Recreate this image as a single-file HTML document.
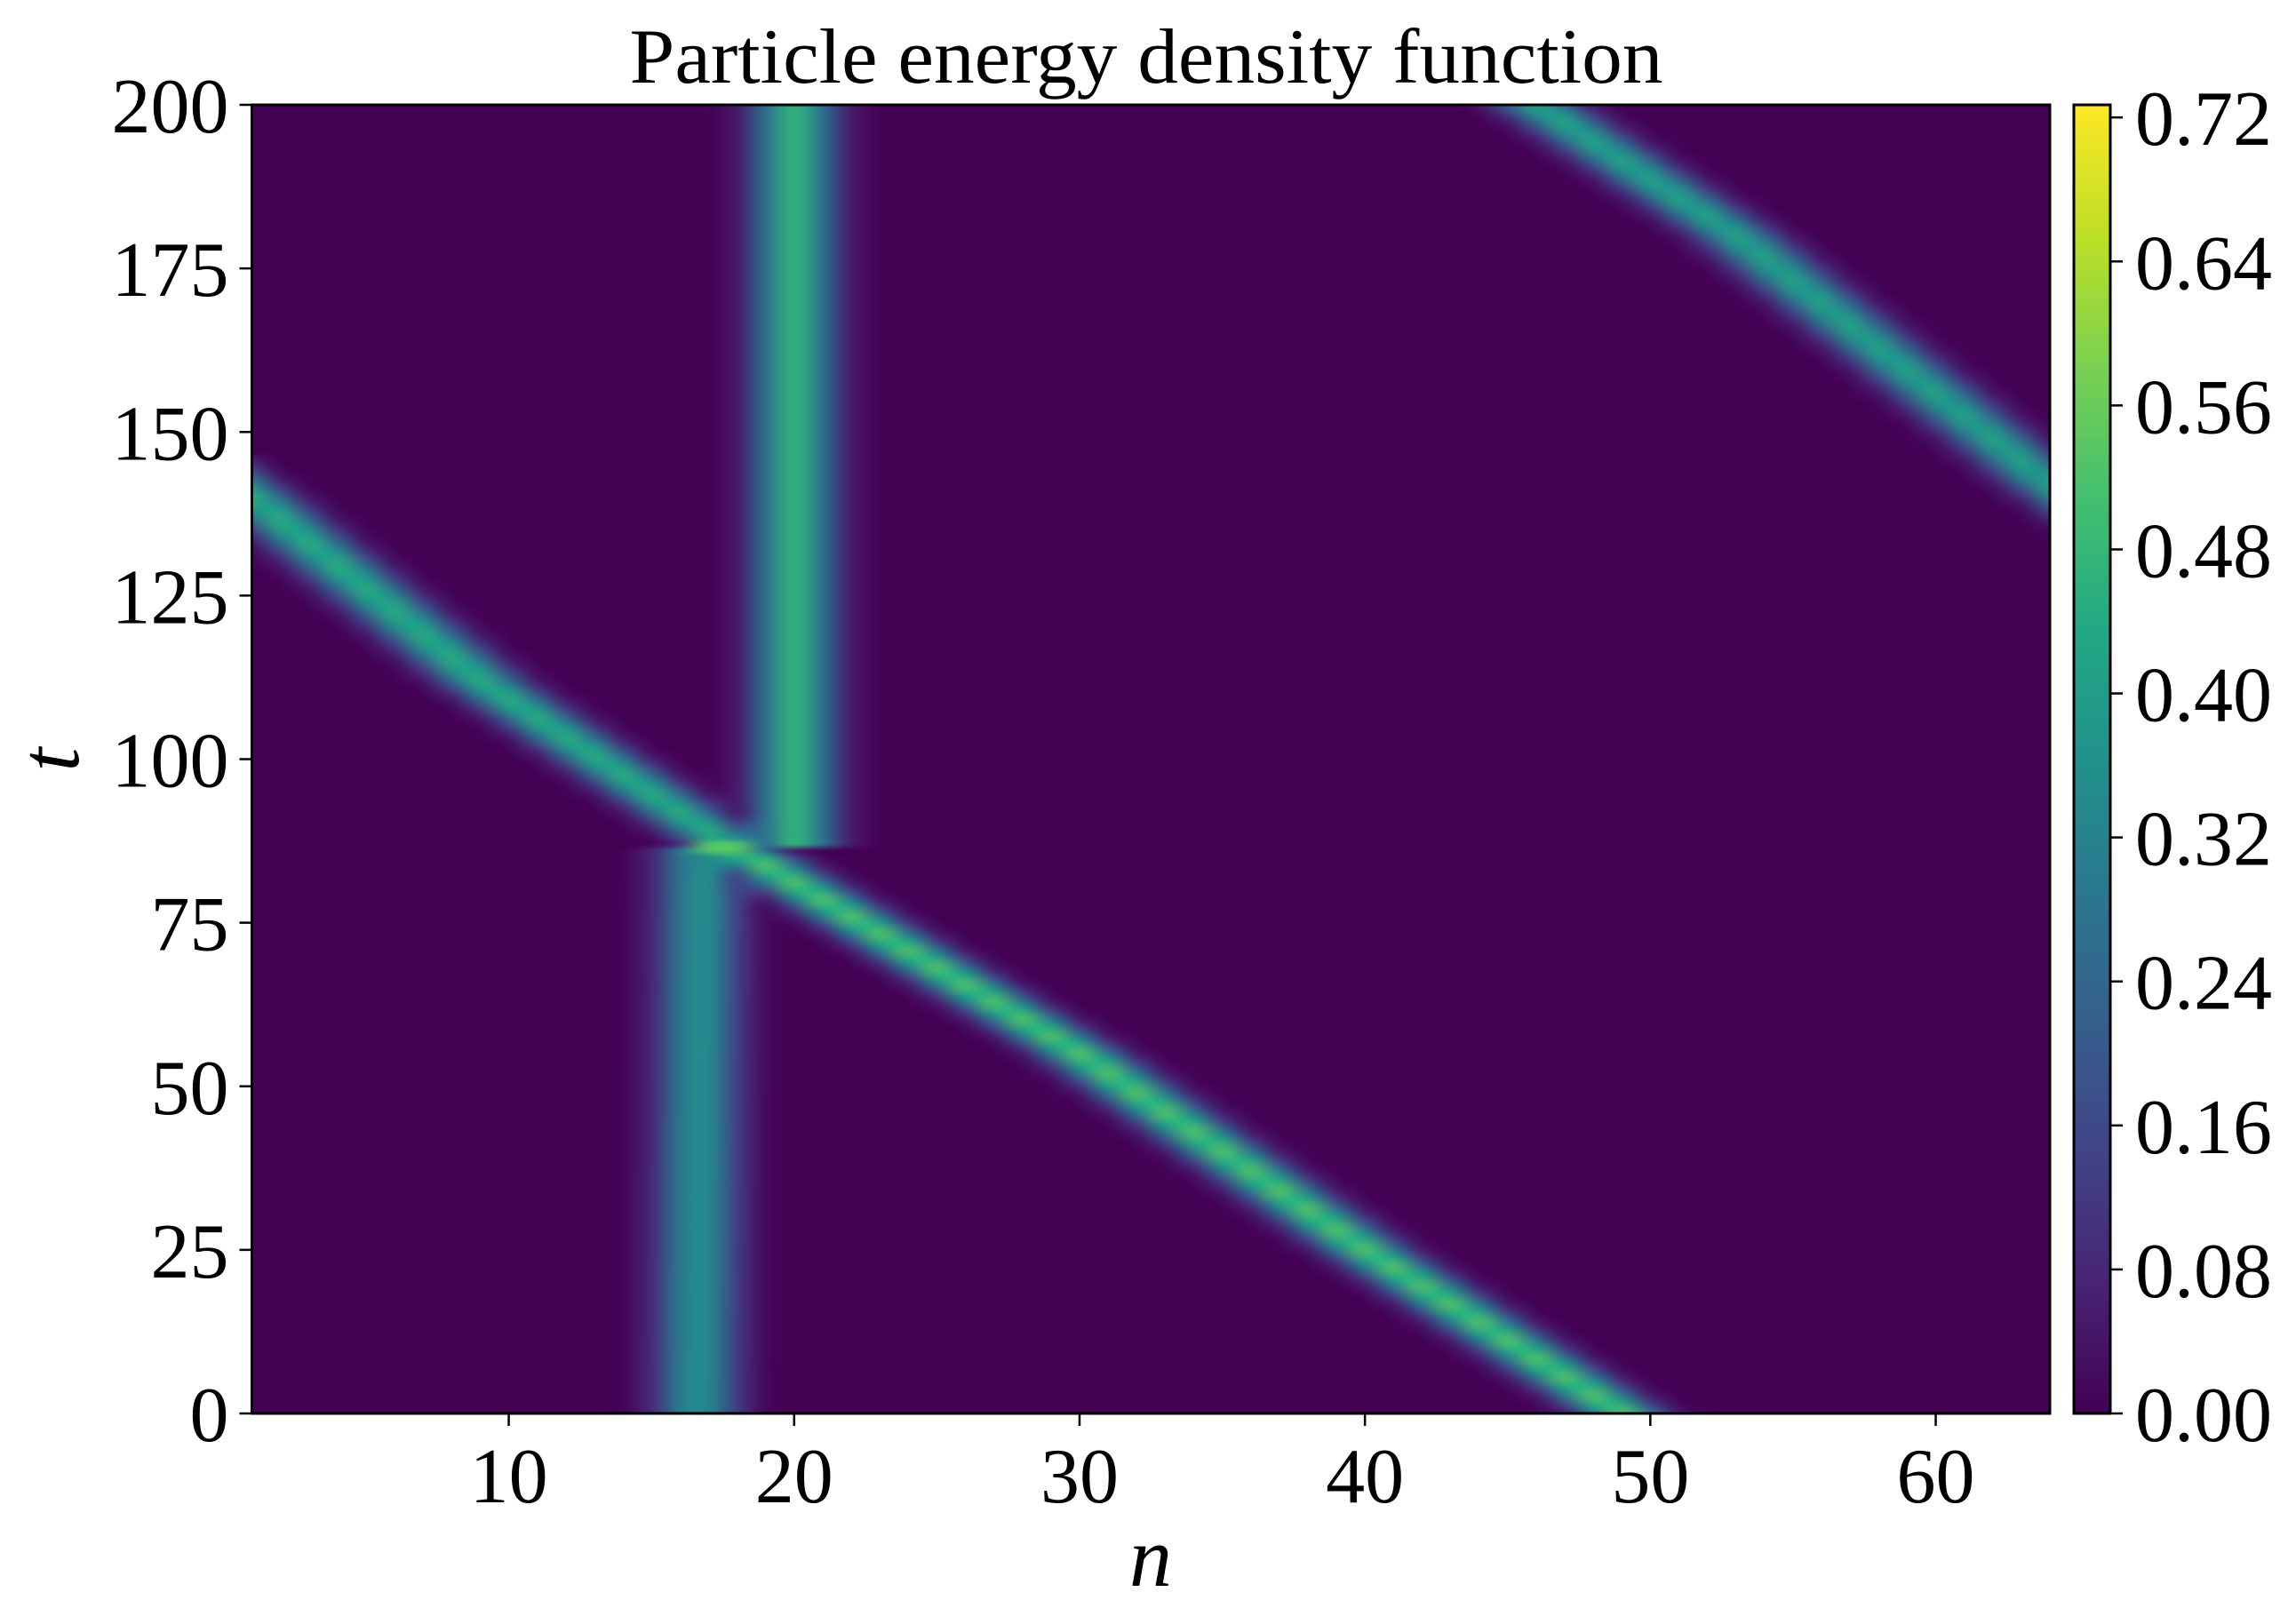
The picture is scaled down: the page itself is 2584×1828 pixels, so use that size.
<!DOCTYPE html>
<html><head><meta charset="utf-8"><style>
html,body{margin:0;padding:0;background:#fff;}
#wrap{position:relative;width:2584px;height:1828px;}
svg text{font-family:"Liberation Serif",serif;fill:#000;}
canvas{position:absolute;left:0;top:0;}
</style></head><body>
<div id="wrap">
<canvas id="hm" width="2584" height="1828"></canvas>
<svg id="ov" width="2584" height="1828" style="position:absolute;left:0;top:0">
<defs><linearGradient id="vir" x1="0" y1="1" x2="0" y2="0">
<stop offset="0" stop-color="#440154"/><stop offset="0.1" stop-color="#482475"/><stop offset="0.2" stop-color="#414487"/><stop offset="0.3" stop-color="#355f8d"/><stop offset="0.4" stop-color="#2a788e"/><stop offset="0.5" stop-color="#21918c"/><stop offset="0.6" stop-color="#22a884"/><stop offset="0.7" stop-color="#44bf70"/><stop offset="0.8" stop-color="#7ad151"/><stop offset="0.9" stop-color="#bddf26"/><stop offset="1" stop-color="#fde725"/>
</linearGradient></defs>
<text x="1290" y="93" font-size="88" text-anchor="middle" textLength="1163" lengthAdjust="spacingAndGlyphs">Particle energy density function</text>
<g id="axes"></g>
<text x="1295" y="1785" font-size="96" font-style="italic" text-anchor="middle">n</text>
<text x="0" y="0" font-size="96" font-style="italic" text-anchor="middle" transform="translate(88,855) rotate(-90)">t</text>
</svg>
</div>
<script>
// data
const nRange = [1, 64];
const tRange = [0, 200];
const xTicks = [10, 20, 30, 40, 50, 60];
const yTicks = [0, 25, 50, 75, 100, 125, 150, 175, 200];
const cbTicks = [0.00, 0.08, 0.16, 0.24, 0.32, 0.40, 0.48, 0.56, 0.64, 0.72];
const vmax = 0.727;
// tracks: control points [t, n] and amplitude
const trackA = [[0, 16.6], [86, 16.7]];
const ampA = 0.37;
const trackB = [[87, 20.0], [140, 20.0], [200, 20.0]];
const ampB = 0.47;
const trackC1 = [[86, 18], [112, 9], [140, 1], [146, -1]];
const ampC1 = 0.45;
const trackC2 = [[0, 49], [25, 40], [55, 30], [85, 18.5]];
const ampC2 = 0.52;
const trackD = [[130, 68], [142, 64], [180, 53], [200, 46], [206, 44]];
const ampD = 0.42;
const spot = [17.5, 86.5];
const spotAmp = 0.72;

const L = 283.5, R = 2307, T = 118, B = 1591;
const CBL = 2334, CBR = 2375;
function xs(n) { return L + (n - nRange[0]) / (nRange[1] - nRange[0]) * (R - L); }
function ys(t) { return B - (t - tRange[0]) / (tRange[1] - tRange[0]) * (B - T); }
function cs(v) { return B - v / vmax * (B - T); }

function trackAt(tr, t) {
  if (t < tr[0][0] || t > tr[tr.length - 1][0]) return null;
  for (let i = 0; i < tr.length - 1; i++) {
    const a = tr[i], b = tr[i + 1];
    if (t >= a[0] && t <= b[0]) return a[1] + (b[1] - a[1]) * (t - a[0]) / (b[0] - a[0] || 1);
  }
  return tr[tr.length - 1][1];
}
const vir = [[68,1,84],[72,36,117],[65,68,135],[53,95,141],[42,120,142],[33,145,140],[34,168,132],[68,191,112],[122,209,81],[189,223,38],[253,231,37]];
function cmap(v) {
  let f = Math.max(0, Math.min(1, v / vmax)) * 10;
  const i = Math.min(9, Math.floor(f)); f -= i;
  const a = vir[i], b = vir[i + 1];
  return [0, 1, 2].map(k => Math.round(a[k] + (b[k] - a[k]) * f));
}
const sig = 0.95;
function val(n, t) {
  let v = 0;
  [[trackA, ampA], [trackB, ampB], [trackC1, ampC1], [trackC2, ampC2], [trackD, ampD]].forEach(([tr, amp]) => {
    const c = trackAt(tr, t);
    if (c !== null) v = Math.max(v, amp * Math.exp(-(n - c) * (n - c) / (2 * sig * sig)));
  });
  const dn = n - spot[0], dt = t - spot[1];
  v = Math.max(v, spotAmp * Math.exp(-dn * dn / 1.0 - dt * dt / 4));
  return v;
}
// build small image
const cols = nRange[1] - nRange[0] + 1, rows = tRange[1] - tRange[0] + 1;
const sm = document.createElement('canvas');
sm.width = cols; sm.height = rows;
const sctx = sm.getContext('2d');
const img = sctx.createImageData(cols, rows);
for (let r = 0; r < rows; r++) {
  const t = tRange[1] - r;
  for (let c = 0; c < cols; c++) {
    const n = nRange[0] + c;
    const col = cmap(val(n, t));
    const o = (r * cols + c) * 4;
    img.data[o] = col[0]; img.data[o + 1] = col[1]; img.data[o + 2] = col[2]; img.data[o + 3] = 255;
  }
}
sctx.putImageData(img, 0, 0);
const ctx = document.getElementById('hm').getContext('2d');
ctx.save();
ctx.beginPath(); ctx.rect(L, T, R - L, B - T); ctx.clip();
ctx.fillStyle = '#440154'; ctx.fillRect(L, T, R - L, B - T);
ctx.imageSmoothingEnabled = true;
ctx.imageSmoothingQuality = 'high';
const x0 = xs(nRange[0] - 0.5), x1 = xs(nRange[1] + 0.5);
const y0 = ys(tRange[1] + 0.5), y1 = ys(tRange[0] - 0.5);
ctx.drawImage(sm, x0, y0, x1 - x0, y1 - y0);
ctx.restore();

// axes
const NS = 'http://www.w3.org/2000/svg';
const g = document.getElementById('axes');
function el(tag, attrs, parent) {
  const e = document.createElementNS(NS, tag);
  for (const k in attrs) e.setAttribute(k, attrs[k]);
  (parent || g).appendChild(e);
  return e;
}
let e;
e = el('rect', {x: L, y: T, width: R - L, height: B - T, fill: 'none', stroke: '#000', 'stroke-width': 3});


e = el('rect', {x: CBL, y: T, width: CBR - CBL, height: B - T, fill: 'url(#vir)', stroke: '#000', 'stroke-width': 3});


xTicks.forEach(v => {
  const x = xs(v);
  e = el('line', {x1: x, x2: x, y1: B, y2: B + 14, stroke: '#000', 'stroke-width': 2.5});
  
  
  e = el('text', {x: x, y: B + 100, 'font-size': 88, 'text-anchor': 'middle'});
  e.textContent = v;
  
  
});
yTicks.forEach(v => {
  const y = ys(v);
  e = el('line', {x1: L - 14, x2: L, y1: y, y2: y, stroke: '#000', 'stroke-width': 2.5});
  
  
  e = el('text', {x: L - 26, y: y + 31, 'font-size': 88, 'text-anchor': 'end'});
  e.textContent = v;
  
  
});
cbTicks.forEach(v => {
  const y = cs(v);
  e = el('line', {x1: CBR, x2: CBR + 14, y1: y, y2: y, stroke: '#000', 'stroke-width': 2.5});
  
  
  e = el('text', {x: 2403, y: y + 31, 'font-size': 88});
  e.textContent = v.toFixed(2);
  
  
});
</script>
</body></html>
